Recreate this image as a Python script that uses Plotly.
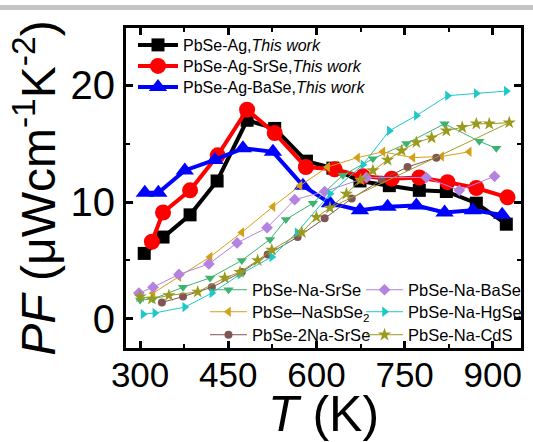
import plotly.graph_objects as go

# ---------------- data ----------------
T_ag = [307, 339, 385, 431, 482, 529, 583, 628, 674, 724, 775, 821, 872, 923]
PF_ag = [5.6, 7.0, 8.9, 11.8, 17.0, 16.3, 13.5, 12.9, 11.8, 11.4, 11.0, 10.9, 9.9, 8.1]

T_srse = [320, 339, 385, 432, 482, 529, 582, 631, 679, 728, 775, 823, 872, 925]
PF_srse = [6.6, 9.1, 11.0, 14.0, 17.9, 15.9, 13.0, 12.8, 12.2, 12.0, 12.1, 11.7, 11.2, 10.4]

T_base = [308, 331, 376, 427, 475, 526, 577, 623, 674, 721, 770, 818, 866, 916]
PF_base = [10.8, 10.8, 12.7, 13.6, 14.6, 14.3, 11.4, 9.9, 9.3, 9.6, 9.7, 9.1, 9.3, 8.9]

T_na_srse = [300, 322, 373, 419, 473, 521, 548, 594, 645, 696, 753, 818, 877, 906]
PF_na_srse = [1.6, 1.7, 2.7, 3.5, 5.0, 6.8, 8.5, 9.9, 12.3, 13.7, 15.0, 16.7, 15.2, 14.6]

T_na_base = [298, 322, 366, 417, 465, 516, 563, 614, 685, 787, 843, 903]
PF_na_base = [2.2, 2.7, 3.8, 4.7, 6.5, 7.8, 10.2, 10.9, 12.1, 12.1, 11.0, 12.2]

T_nasbse = [322, 366, 419, 473, 526, 572, 619, 670, 713, 764, 813, 860]
PF_nasbse = [2.2, 3.6, 5.3, 7.4, 9.6, 11.4, 13.0, 13.8, 14.3, 13.8, 13.9, 14.3]

T_hgse = [305, 325, 376, 422, 470, 524, 567, 623, 679, 724, 770, 823, 872, 923]
PF_hgse = [0.4, 0.5, 1.0, 2.2, 3.8, 5.3, 7.4, 10.7, 13.2, 16.1, 17.4, 19.1, 19.3, 19.5]

T_2na = [337, 373, 422, 473, 517, 568, 614, 660, 711, 755, 804]
PF_2na = [1.4, 1.9, 2.7, 4.0, 5.5, 7.0, 8.6, 10.3, 11.9, 13.0, 13.8]

T_cds = [300, 320, 349, 398, 444, 470, 500, 524, 575, 600, 623, 651, 675, 696,
         721, 745, 770, 796, 821, 848, 872, 894, 928]
PF_cds = [1.9, 1.7, 2.0, 2.3, 3.5, 4.0, 5.0, 5.9, 7.4, 8.7, 9.5, 10.7, 11.9, 12.7,
          13.6, 14.4, 15.1, 15.5, 16.1, 16.4, 16.7, 16.7, 16.8]
# straight olive segment seen in the reference
T_cds_line = [623, 928]
PF_cds_line = [9.5, 16.8]

x_ticks = [300, 450, 600, 750, 900]
y_ticks = [0, 10, 20]

FONT = "Arial, Liberation Sans, sans-serif"

fig = go.Figure()


def add(T, v, name, color, symbol, size, lw, legend, show=True, mode="lines+markers"):
    fig.add_trace(go.Scatter(
        x=T, y=v, mode=mode, name=name, legend=legend, showlegend=show,
        line=dict(color=color, width=lw),
        marker=dict(symbol=symbol, size=size, color=color, line=dict(width=0)),
    ))


add(T_ag, PF_ag, "PbSe-Ag,<i>This work</i>", "#000000", "square", 13, 4, "legend")
add(T_srse, PF_srse, "PbSe-Ag-SrSe,<i>This work</i>", "#ff0000", "circle", 16, 4, "legend2")
add(T_base, PF_base, "PbSe-Ag-BaSe,<i>This work</i>", "#0000ff", "triangle-up", 16, 4, "legend3")

add(T_na_srse, PF_na_srse, "PbSe-Na-SrSe", "#3cb371", "triangle-down", 9, 1, "legend4")
add(T_nasbse, PF_nasbse, "PbSe\u2013NaSbSe<sub>2</sub>", "#d4a017", "triangle-left", 9, 1, "legend5")
add(T_2na, PF_2na, "PbSe-2Na-SrSe", "#7f5555", "circle", 8, 1, "legend6")
add(T_na_base, PF_na_base, "PbSe-Na-BaSe", "#b482e0", "diamond", 9, 1, "legend7")
add(T_hgse, PF_hgse, "PbSe-Na-HgSe", "#1fc8c8", "triangle-right", 9, 1, "legend8")
add(T_cds_line, PF_cds_line, "PbSe-Na-CdS", "#a0a028", "star", 9, 1, "legend9",
    show=False, mode="lines")
add(T_cds, PF_cds, "PbSe-Na-CdS", "#9a9a1e", "star", 10, 1, "legend9")

L, R, TOP, B = 126, 12, 28, 94
W, H = 533, 442
pw, ph = W - L - R, H - TOP - B


def px(x):
    return (x - L) / pw


def py(y):
    return (H - B - y) / ph


def leg(x, y, size, iw):
    return dict(x=px(x), y=py(y), xanchor="left", yanchor="middle",
                bgcolor="rgba(0,0,0,0)", borderwidth=0, itemwidth=iw,
                font=dict(family=FONT, size=size, color="#000"))


top_rows = [45, 66, 87]
bot_rows = [290, 312, 335]
fig.update_layout(
    legend=leg(133, top_rows[0], 16, 40),
    legend2=leg(133, top_rows[1], 16, 40),
    legend3=leg(133, top_rows[2], 16, 40),
    legend4=leg(205, bot_rows[0], 16.5, 37),
    legend5=leg(205, bot_rows[1], 16.5, 37),
    legend6=leg(205, bot_rows[2], 16.5, 37),
    legend7=leg(361, bot_rows[0], 16.5, 37),
    legend8=leg(361, bot_rows[1], 16.5, 37),
    legend9=leg(361, bot_rows[2], 16.5, 37),
)

axis_common = dict(
    showline=True, linecolor="#000", linewidth=3, mirror="allticks",
    ticks="inside", ticklen=7, tickwidth=2.5, tickcolor="#000",
    showgrid=False, zeroline=False,
)

fig.update_xaxes(
    range=[276, 948], tickvals=x_ticks,
    tickfont=dict(family=FONT, size=35, color="#000"), ticklabelstandoff=-6,
    minor=dict(ticks="inside", dtick=75, tick0=300, ticklen=4, tickwidth=2, tickcolor="#000"),
    title=dict(text="<i>T</i> (K)", font=dict(family=FONT, size=50, color="#000"), standoff=10),
    **axis_common,
)
fig.update_yaxes(
    range=[-2.5, 24.9], tickvals=y_ticks,
    tickfont=dict(family=FONT, size=40, color="#000"),
    minor=dict(ticks="inside", dtick=5, tick0=0, ticklen=4, tickwidth=2, tickcolor="#000"),
    title=dict(text="<i>PF</i> (\u03bcWcm<sup>-1</sup>K<sup>-2</sup>)",
               font=dict(family=FONT, size=48, color="#000"), standoff=0),
    **axis_common,
)

fig.add_shape(type="rect", xref="paper", yref="paper",
              x0=-L / pw, x1=1 + R / pw, y0=py(10), y1=py(5),
              fillcolor="#c4c4c4", line=dict(width=0), layer="above")

fig.update_layout(
    width=W, height=H,
    margin=dict(l=L, r=R, t=TOP, b=B, autoexpand=False),
    paper_bgcolor="white", plot_bgcolor="white",
    font=dict(family=FONT, color="#000"),
)

fig.write_html("out.html", config={"displayModeBar": False},
               post_script="document.body.style.margin='0';")
